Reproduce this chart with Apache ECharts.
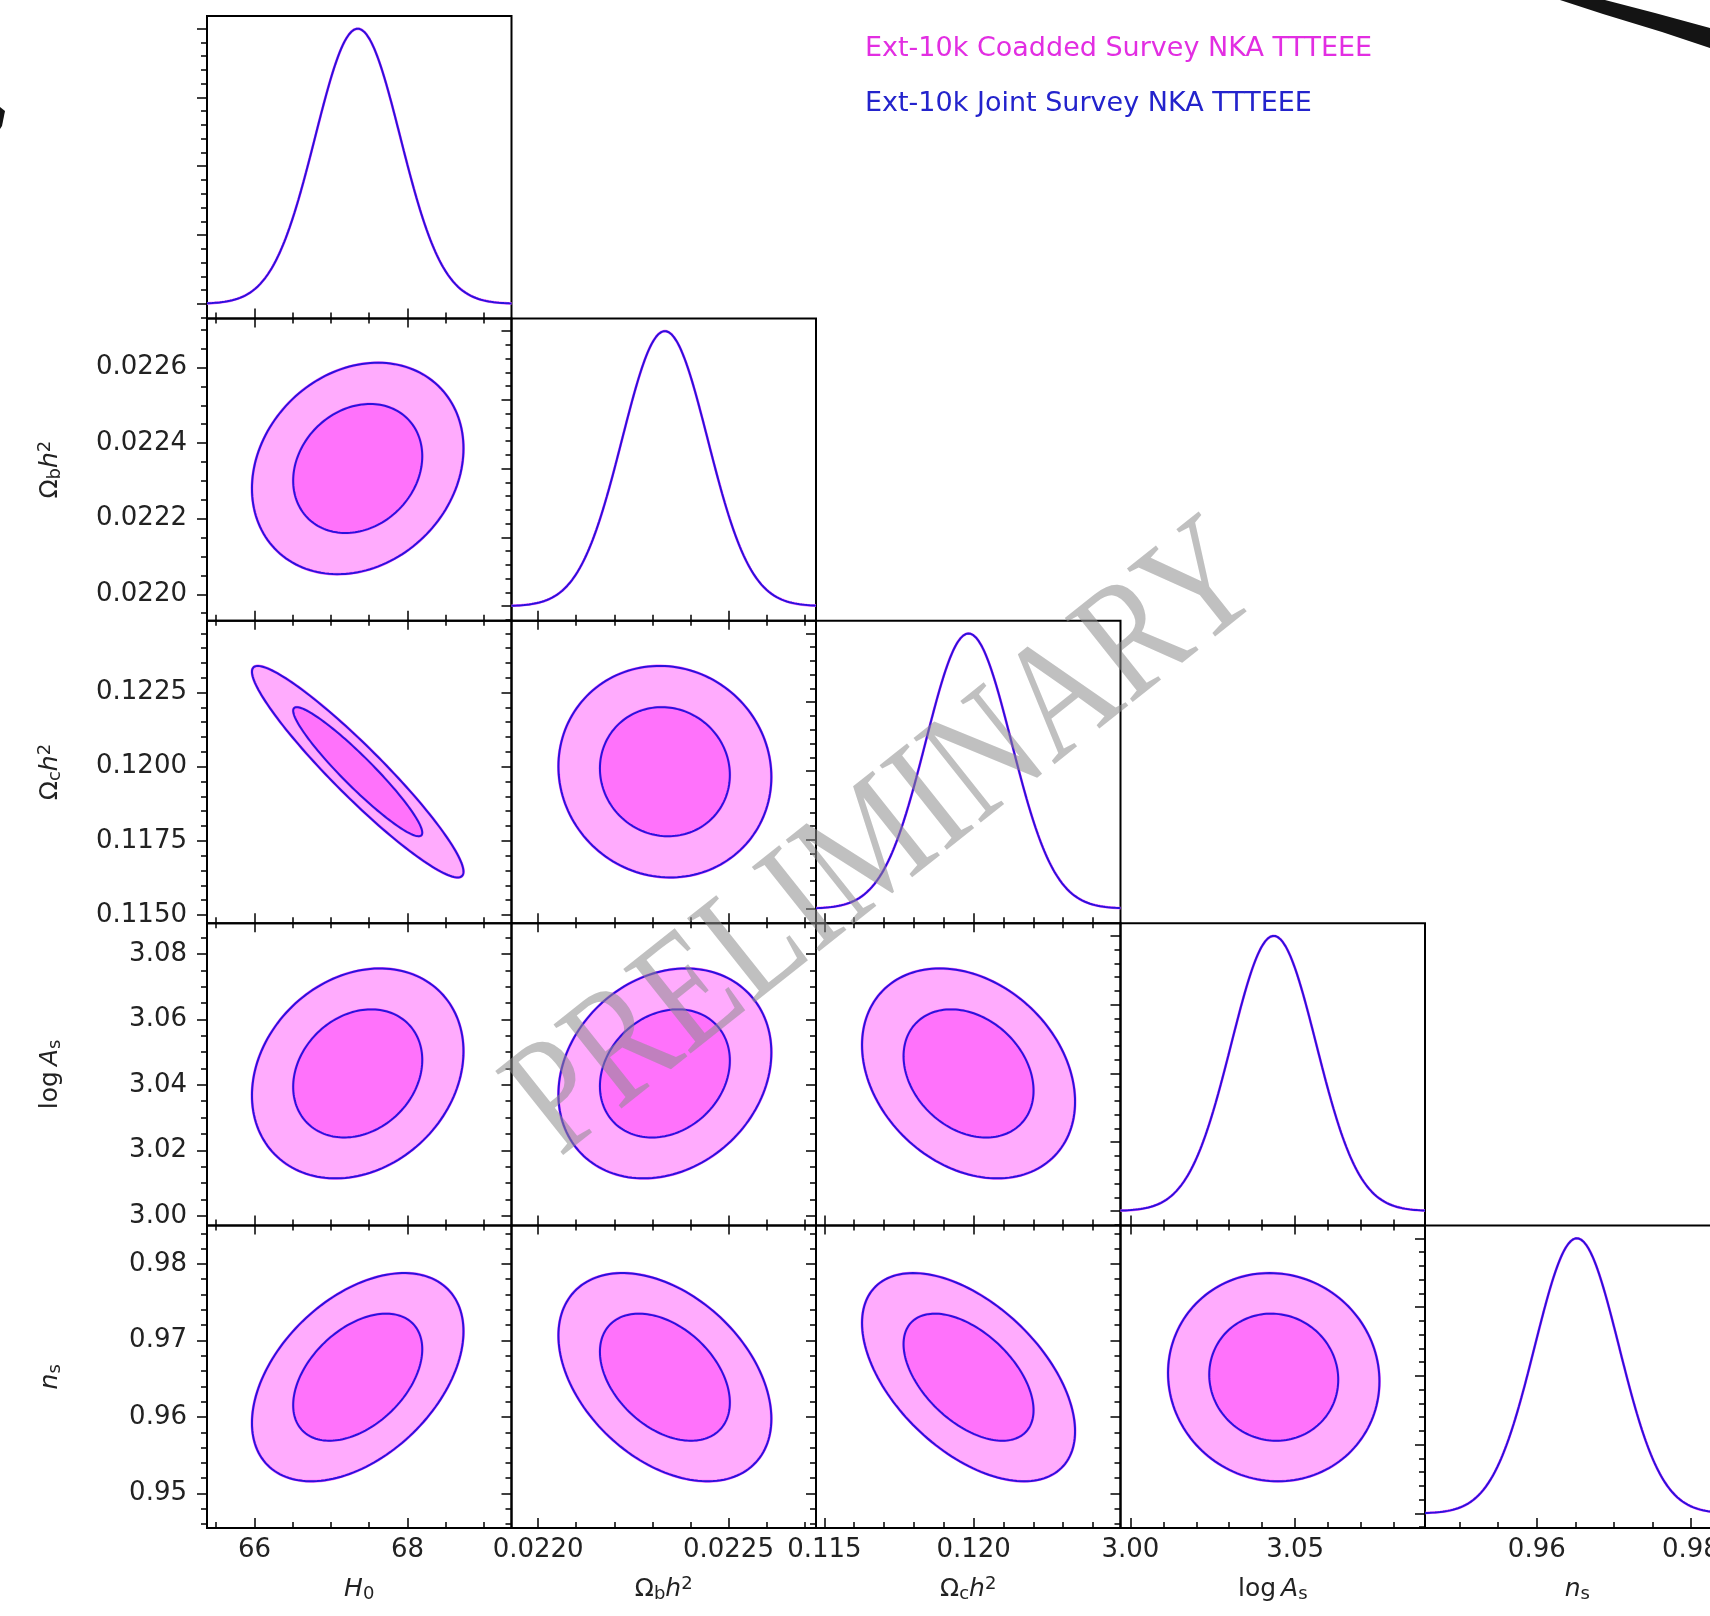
<!DOCTYPE html>
<html>
<head>
<meta charset="utf-8">
<script src="https://cdn.jsdelivr.net/npm/echarts@6/dist/echarts.min.js"></script>
<style>
html,body{margin:0;padding:0;background:#fff;}
#chart{width:1710px;height:1616px;}
</style>
</head>
<body>
<div id="chart"></div>
<script>
// ---------------- values ----------------
const seriesNames = ['Ext-10k Coadded Survey NKA TTTEEE', 'Ext-10k Joint Survey NKA TTTEEE'];
const paramLabels = ['{i|H}{sub|0}', 'Ω{sub|b}{i|h}{sup|2}', 'Ω{sub|c}{i|h}{sup|2}', 'log\u2009{i|A}{sub|s}', '{i|n}{sub|s}'];
const paramMeans  = [67.35, 0.022333, 0.11983, 3.0435, 0.9652];
const paramSigmas = [0.556, 0.0001125, 0.001435, 0.0129, 0.00547];
const axisMins    = [65.38, 0.02193, 0.11472, 2.9970, 0.9455];
const axisMaxs    = [69.36, 0.02273, 0.12492, 3.0894, 0.9850];
// correlation coefficient of (row parameter, column parameter) for each lower-triangle panel
const correlations = [
  [],
  [0.19],
  [-0.945, -0.05],
  [0.21, 0.20, -0.27],
  [0.44, -0.40, -0.52, -0.04]
];
const xMajorTicks = [[66, 68], [0.0220, 0.0225], [0.115, 0.120], [3.00, 3.05], [0.96, 0.98]];
const xMinorSteps = [0.5, 0.0001, 0.001, 0.01, 0.005];
const xDecimals   = [0, 4, 3, 2, 2];
const yMajorTicks = [[], [0.0220, 0.0222, 0.0224, 0.0226], [0.1150, 0.1175, 0.1200, 0.1225], [3.00, 3.02, 3.04, 3.06, 3.08], [0.95, 0.96, 0.97, 0.98]];
const yMinorSteps = [0, 0.00005, 0.0005, 0.005, 0.002];
const yDecimals   = [0, 4, 4, 2, 2];
const densityTicks = [0, 0.25, 0.5, 0.75, 1.0];
const densityMinorStep = 0.05;
const densityRange = [-0.053, 1.046];
const contourChi2 = [6.18, 2.30];   // 95% and 68% two-parameter confidence levels

// ---------------- styling / layout ----------------
const FONT = 'DejaVu Sans';
const TEXT = '#222';
const MAGENTA_LINE = '#ff66ff';
const BLUE_LINE = '#2a12dc';
const FILLS = ['#ffabfd', '#ff72fb'];
const P_LEFT = 207, P_W = 304.5, P_TOP = 16, P_H = 302.4;

const nameStyle = {
  fontFamily: FONT, fontSize: 25, color: TEXT, lineHeight: 28,
  rich: {
    i:   {fontFamily: FONT, fontStyle: 'italic', fontSize: 25, lineHeight: 28, color: TEXT},
    sub: {fontFamily: FONT, fontSize: 18, lineHeight: 18, verticalAlign: 'bottom', color: TEXT},
    sup: {fontFamily: FONT, fontSize: 18, lineHeight: 18, verticalAlign: 'top', color: TEXT}
  }
};

function stepTicks(min, max, step, majors) {
  const out = [];
  const k0 = Math.ceil(min / step - 1e-9), k1 = Math.floor(max / step + 1e-9);
  for (let k = k0; k <= k1; k++) {
    const v = +(k * step).toPrecision(12);
    if (!majors.some(m => Math.abs(m - v) < step * 1e-3)) out.push(v);
  }
  return out;
}

function axisCfg(o) {
  const cfg = {
    type: 'value', gridIndex: o.grid, position: o.position, min: o.min, max: o.max,
    axisLine: {show: false, onZero: false},
    splitLine: {show: false}, splitArea: {show: false},
    axisTick: {show: true, inside: o.inside, length: o.length, customValues: o.ticks,
               lineStyle: {color: '#000', width: 1.5}},
    axisLabel: {show: false},
    axisPointer: {show: false},
    silent: true
  };
  if (o.labels) {
    cfg.axisLabel = {show: true, customValues: o.labels, margin: o.margin,
      formatter: (v) => Number(v).toFixed(o.decimals),
      fontFamily: FONT, fontSize: 26, color: TEXT};
  }
  if (o.name) {
    cfg.name = o.name; cfg.nameLocation = 'middle'; cfg.nameGap = o.nameGap;
    cfg.nameRotate = o.nameRotate || 0; cfg.nameTextStyle = nameStyle;
  }
  return cfg;
}

function ellipse(mx, my, sx, sy, rho, chi2) {
  const r = Math.sqrt(chi2), q = Math.sqrt(1 - rho * rho), pts = [];
  for (let t = 0; t < 160; t++) {
    const a = 2 * Math.PI * t / 160;
    pts.push([mx + sx * r * Math.cos(a), my + sy * r * (rho * Math.cos(a) + q * Math.sin(a))]);
  }
  return pts;
}

function gaussianCurve(m, s, min, max) {
  const pts = [];
  for (let t = 0; t <= 240; t++) {
    const x = min + (max - min) * t / 240;
    pts.push([x, Math.exp(-0.5 * Math.pow((x - m) / s, 2))]);
  }
  return pts;
}

const grids = [], xAxes = [], yAxes = [], series = [];

for (let i = 0; i < 5; i++) {
  for (let j = 0; j <= i; j++) {
    const gi = grids.length;
    grids.push({left: P_LEFT + j * P_W, top: P_TOP + i * P_H, width: P_W, height: P_H,
                containLabel: false, outerBoundsMode: 'none',
                show: true, borderColor: '#000', borderWidth: 2, backgroundColor: 'rgba(0,0,0,0)'});
    const isDiag = i === j, isBottom = i === 4, isLeft = j === 0;
    const xmin = axisMins[j], xmax = axisMaxs[j];

    // bottom x axis (major + minor ticks, pointing inwards)
    const xi = xAxes.length;
    xAxes.push(axisCfg({grid: gi, position: 'bottom', min: xmin, max: xmax, inside: true, length: 10,
      ticks: xMajorTicks[j], labels: isBottom ? xMajorTicks[j] : null, margin: 9, decimals: xDecimals[j],
      name: isBottom ? paramLabels[j] : null, nameGap: 47}));
    xAxes.push(axisCfg({grid: gi, position: 'bottom', min: xmin, max: xmax, inside: true, length: 6,
      ticks: stepTicks(xmin, xmax, xMinorSteps[j], xMajorTicks[j])}));
    if (!isDiag) {
      xAxes.push(axisCfg({grid: gi, position: 'top', min: xmin, max: xmax, inside: true, length: 9,
        ticks: xMajorTicks[j]}));
      xAxes.push(axisCfg({grid: gi, position: 'top', min: xmin, max: xmax, inside: true, length: 5,
        ticks: stepTicks(xmin, xmax, xMinorSteps[j], xMajorTicks[j])}));
    }

    // left y axis (ticks pointing outwards)
    const yi = yAxes.length;
    if (isDiag) {
      yAxes.push(axisCfg({grid: gi, position: 'left', min: densityRange[0], max: densityRange[1],
        inside: false, length: 10, ticks: densityTicks}));
      yAxes.push(axisCfg({grid: gi, position: 'left', min: densityRange[0], max: densityRange[1],
        inside: false, length: 6, ticks: stepTicks(densityRange[0], densityRange[1], densityMinorStep, densityTicks)}));
    } else {
      const ymin = axisMins[i], ymax = axisMaxs[i];
      yAxes.push(axisCfg({grid: gi, position: 'left', min: ymin, max: ymax, inside: false, length: 10,
        ticks: yMajorTicks[i], labels: isLeft ? yMajorTicks[i] : null, margin: 20, decimals: yDecimals[i],
        name: isLeft ? paramLabels[i] : null, nameGap: 143, nameRotate: 90}));
      yAxes.push(axisCfg({grid: gi, position: 'left', min: ymin, max: ymax, inside: false, length: 6,
        ticks: stepTicks(ymin, ymax, yMinorSteps[i], yMajorTicks[i])}));
    }

    if (isDiag) {
      const curve = gaussianCurve(paramMeans[j], paramSigmas[j], xmin, xmax);
      series.push({type: 'line', name: seriesNames[0], xAxisIndex: xi, yAxisIndex: yi, data: curve,
        showSymbol: false, symbol: 'none', silent: true, clip: true, z: 2,
        lineStyle: {color: MAGENTA_LINE, width: 2.7}});
      series.push({type: 'line', name: seriesNames[1], xAxisIndex: xi, yAxisIndex: yi, data: curve,
        showSymbol: false, symbol: 'none', silent: true, clip: true, z: 3,
        lineStyle: {color: BLUE_LINE, width: 2}});
    } else {
      const rho = correlations[i][j];
      const polys = contourChi2.map(c => ellipse(paramMeans[j], paramMeans[i], paramSigmas[j], paramSigmas[i], rho, c));
      const items = contourChi2.map((c, k) => [paramMeans[j], paramMeans[i], k]);
      series.push({type: 'custom', name: seriesNames[0], coordinateSystem: 'cartesian2d',
        xAxisIndex: xi, yAxisIndex: yi, data: items, encode: {x: 0, y: 1}, silent: true, z: 2,
        renderItem: (params, api) => ({
          type: 'polygon',
          shape: {points: polys[params.dataIndex].map(p => api.coord(p))},
          style: {fill: FILLS[params.dataIndex], stroke: MAGENTA_LINE, lineWidth: 2.8}
        })});
      series.push({type: 'custom', name: seriesNames[1], coordinateSystem: 'cartesian2d',
        xAxisIndex: xi, yAxisIndex: yi, data: items, encode: {x: 0, y: 1}, silent: true, z: 3,
        renderItem: (params, api) => ({
          type: 'polygon',
          shape: {points: polys[params.dataIndex].map(p => api.coord(p))},
          style: {fill: 'none', stroke: BLUE_LINE, lineWidth: 2}
        })});
    }
  }
}

const graphic = [
  {type: 'text', x: 865, y: 49, z: 50,
   style: {text: seriesNames[0], font: '27px "DejaVu Sans"', fill: '#e22ee2',
           align: 'left', verticalAlign: 'middle', textAlign: 'left', textVerticalAlign: 'middle'}},
  {type: 'text', x: 865, y: 104, z: 50,
   style: {text: seriesNames[1], font: '27px "DejaVu Sans"', fill: '#2323cc',
           align: 'left', verticalAlign: 'middle', textAlign: 'left', textVerticalAlign: 'middle'}},
  {type: 'text', x: 887, y: 842, rotation: 38.5 * Math.PI / 180, scaleX: 0.81, scaleY: 1, z: 100,
   style: {text: 'PRELIMINARY', font: '165px "Liberation Serif"', fill: 'rgba(140,140,140,0.55)',
           align: 'center', verticalAlign: 'middle', textAlign: 'center', textVerticalAlign: 'middle'}},
  {type: 'polygon', z: 60,
   shape: {points: [[1560, 0], [1605, 0], [1655, 13], [1710, 28], [1710, 48], [1662, 32], [1603, 14]]},
   style: {fill: '#141414'}},
  {type: 'polygon', z: 60,
   shape: {points: [[0, 107], [5, 111], [2, 126], [0, 129]]},
   style: {fill: '#141414'}}
];

const chart = echarts.init(document.getElementById('chart'), null, {renderer: 'canvas', width: 1710, height: 1616});
chart.setOption({
  animation: false,
  backgroundColor: '#fff',
  grid: grids,
  xAxis: xAxes,
  yAxis: yAxes,
  series: series,
  graphic: graphic
});
</script>
</body>
</html>
